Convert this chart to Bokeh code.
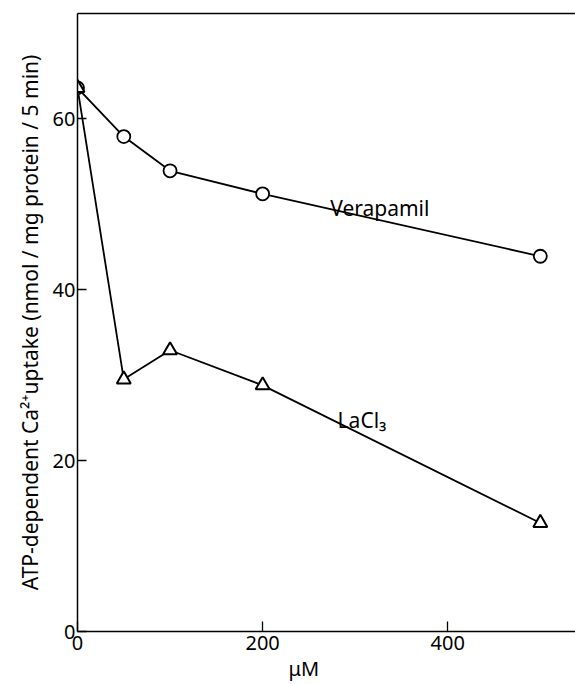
from bokeh.plotting import figure
from bokeh.models import LinearAxis, FixedTicker, Label, Range1d, Title
from bokeh.embed import file_html
from bokeh.resources import INLINE

# Data
conc = [0, 50, 100, 200, 500]
verapamil = [63.6, 57.9, 53.9, 51.2, 43.9]
lacl3 = [63.6, 29.5, 32.9, 28.8, 12.7]

x_ticks = [0, 200, 400]
y_ticks = [0, 20, 40, 60]

FONT = "Noto Sans"

p = figure(width=575, height=684, output_backend="svg", toolbar_location=None,
           x_range=Range1d(0, 538), y_range=Range1d(0, 72.3),
           min_border_left=77, min_border_right=0, min_border_top=13,
           min_border_bottom=53, x_axis_location=None, y_axis_location=None)
p.background_fill_color = "white"
p.border_fill_color = "white"
p.outline_line_color = None
p.xgrid.visible = False
p.ygrid.visible = False

def style(ax, ticks, tin):
    ax.ticker = FixedTicker(ticks=ticks)
    ax.minor_tick_line_color = None
    ax.major_tick_in = tin
    ax.major_tick_out = 0
    ax.axis_line_width = 1.5
    ax.major_tick_line_width = 1.3
    ax.major_label_text_font = FONT
    ax.major_label_text_font_size = "20px"
    ax.major_label_text_color = "black"
    ax.axis_line_color = "black"
    ax.major_tick_line_color = "black"

yax = LinearAxis()
style(yax, y_ticks, 9)
yax.major_label_standoff = 2
yax.axis_label = "ATP-dependent Ca\u00b2\u207auptake (nmol / mg protein / 5 min)"
yax.axis_label_text_font = FONT
yax.axis_label_text_font_size = "21px"
yax.axis_label_text_font_style = "normal"
yax.axis_label_text_color = "black"
yax.axis_label_standoff = 6
p.add_layout(yax, "left")

xax = LinearAxis()
style(xax, x_ticks, 10)
xax.major_label_standoff = 4
p.add_layout(xax, "below")

p.add_layout(Title(text="\u03bcM", align="left", offset=211, text_font=FONT,
                   text_font_size="20px", text_font_style="normal",
                   text_color="black", standoff=0), "below")

top = LinearAxis()
top.ticker = FixedTicker(ticks=[])
top.major_tick_in = 0
top.major_tick_out = 0
top.minor_tick_line_color = None
top.major_label_text_font_size = "0px"
top.axis_line_width = 1.5
top.axis_line_color = "black"
p.add_layout(top, "above")

p.line(conc, verapamil, line_color="black", line_width=1.8)
p.line(conc, lacl3, line_color="black", line_width=1.8)
p.scatter(conc, verapamil, marker="circle", size=13, fill_color="white",
          line_color="black", line_width=1.8)
p.scatter(conc, lacl3, marker="triangle", size=14, fill_color="white",
          line_color="black", line_width=2)

p.add_layout(Label(x=273, y=49.5, text="Verapamil", text_font=FONT,
                   text_font_size="21px", text_baseline="alphabetic",
                   text_color="black"))
p.add_layout(Label(x=281, y=24.7, text="LaCl\u2083", text_font=FONT,
                   text_font_size="21px", text_baseline="alphabetic",
                   text_color="black"))

open("out.html", "w").write(file_html(p, INLINE))
